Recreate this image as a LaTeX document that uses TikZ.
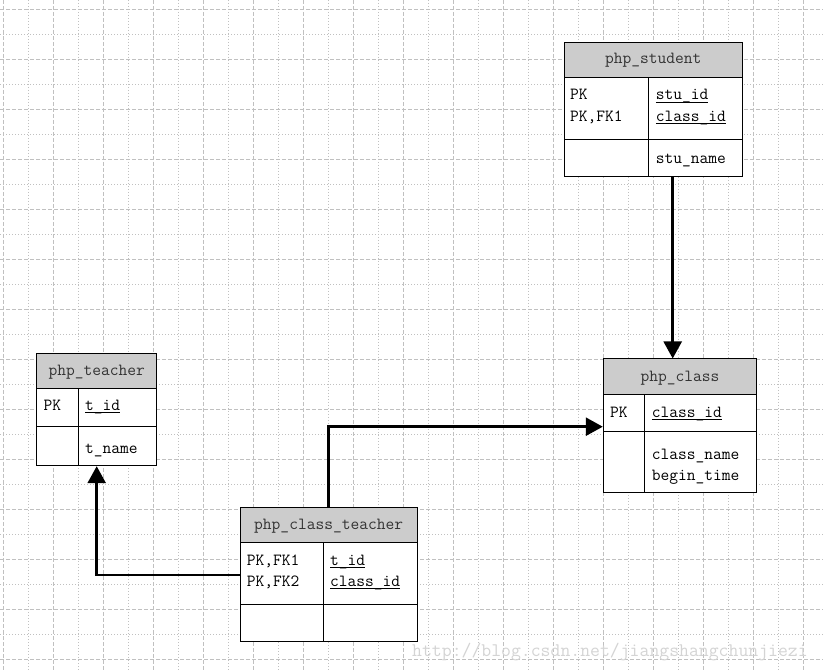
\documentclass[tikz,border=0pt]{standalone}
\usepackage{fontspec}
\usetikzlibrary{arrows.meta}
\definecolor{gridc}{HTML}{C0C0C0}
\definecolor{hdrc}{HTML}{CCCCCC}
\definecolor{wmc}{HTML}{D4D4D4}
\newcommand\myul[1]{\setbox0\hbox{#1}\rlap{\rule[-2.6pt]{\wd0}{0.9pt}}\box0}
\tikzset{
 gmaj/.style={draw=gridc,line width=0.9pt,dash pattern=on 4pt off 2pt},
 gmin/.style={draw=gridc,line width=0.9pt,dash pattern=on 1pt off 2pt},
 tbl/.style={draw=black,fill=white,line width=1pt,inner sep=0pt,rectangle},
 hdr/.style={draw=black,fill=hdrc,line width=1pt},
 cell/.style={draw=black,line width=1pt},
 txt/.style={inner sep=0pt,anchor=base west,font=\fontsize{17}{17}\selectfont\ttfamily},
 htxt/.style={inner sep=0pt,anchor=base,font=\fontsize{17}{17}\selectfont\ttfamily,text=black!80},
 conn/.style={line width=2.5pt,-{Triangle[length=17pt,width=18pt]}},
 wmark/.style={inner sep=0pt,anchor=base west,font=\fontsize{19.2}{19.2}\selectfont\ttfamily,text=wmc},
}
\begin{document}
\begin{tikzpicture}[x=1pt,y=-1pt]
\useasboundingbox (0,0) rectangle (823,671);
\fill[white] (0,0) rectangle (823,671);
% grid
\foreach \k in {0,...,32}{
  \pgfmathsetmacro\xx{3.3+25*\k}
  \ifodd\k \draw[gmin] (\xx,0) -- (\xx,671); \else \draw[gmaj] (\xx,0) -- (\xx,671); \fi
}
\foreach \k in {0,...,26}{
  \pgfmathsetmacro\yy{9.3+25*\k}
  \ifodd\k \draw[gmin] (0,\yy) -- (823,\yy); \else \draw[gmaj] (0,\yy) -- (823,\yy); \fi
}
% php_student
\node[tbl,minimum width=177.7pt,minimum height=134.2pt] (student) at (653.15,109.4) {};
\draw[hdr] (564.3,42.3) rectangle (742,77.3);
\draw[cell] (564.3,139.3) -- (742,139.3);
\draw[cell] (648.3,77.3) -- (648.3,176.5);
\node[htxt] (student-h) at (653.15,64) {php\_student};
\node[txt] (student-k1) at (570,100) {PK};
\node[txt] (student-k2) at (570,121.7) {PK,FK1};
\node[txt] (student-a1) at (655.7,100) {\myul{stu\_id}};
\node[txt] (student-a2) at (655.7,121.7) {\myul{class\_id}};
\node[txt] (student-a3) at (655.7,164) {stu\_name};
% php_teacher
\node[tbl,minimum width=120pt,minimum height=112.4pt] (teacher) at (96.7,409.5) {};
\draw[hdr] (36.7,353.3) rectangle (156.7,388.3);
\draw[cell] (36.7,426.7) -- (156.7,426.7);
\draw[cell] (78.3,388.3) -- (78.3,465.7);
\node[htxt] (teacher-h) at (96.7,376) {php\_teacher};
\node[txt] (teacher-k1) at (43.3,410) {PK};
\node[txt] (teacher-a1) at (85,410) {\myul{t\_id}};
\node[txt] (teacher-a2) at (85,453.3) {t\_name};
% php_class_teacher
\node[tbl,minimum width=177.3pt,minimum height=133.7pt] (ct) at (328.65,574.15) {};
\draw[hdr] (240,507.3) rectangle (417.3,542.3);
\draw[cell] (240,604.3) -- (417.3,604.3);
\draw[cell] (323.3,542.3) -- (323.3,641);
\node[htxt] (ct-h) at (328.65,529.5) {php\_class\_teacher};
\node[txt] (ct-k1) at (246.7,565) {PK,FK1};
\node[txt] (ct-k2) at (246.7,586) {PK,FK2};
\node[txt] (ct-a1) at (330,565) {\myul{t\_id}};
\node[txt] (ct-a2) at (330,586) {\myul{class\_id}};
% php_class
\node[tbl,minimum width=153.4pt,minimum height=133.7pt] (class) at (680,425.85) {};
\draw[hdr] (603.3,359) rectangle (756.7,394.3);
\draw[cell] (603.3,431.7) -- (756.7,431.7);
\draw[cell] (644.3,394.3) -- (644.3,492.7);
\node[htxt] (class-h) at (680,381.5) {php\_class};
\node[txt] (class-k1) at (610,417.3) {PK};
\node[txt] (class-a1) at (651.7,417.3) {\myul{class\_id}};
\node[txt] (class-a2) at (651.7,459) {class\_name};
\node[txt] (class-a3) at (651.7,480) {begin\_time};
% connectors
\coordinate (sx) at (672.7,0);
\coordinate (ctx) at (328.3,0);
\coordinate (cy) at (0,426.7);
\coordinate (ty) at (0,575);
\coordinate (tx) at (96.7,0);
\draw[conn] (student.south -| sx) -- (class.north -| sx);
\draw[conn] (ct.north -| ctx) |- (class.west |- cy);
\draw[conn] (ct.west |- ty) -| (teacher.south -| tx);
% watermark
\node[wmark] (wm) at (412,656) {http://blog.csdn.net/jiangshangchunjiezi};
\end{tikzpicture}
\end{document}
